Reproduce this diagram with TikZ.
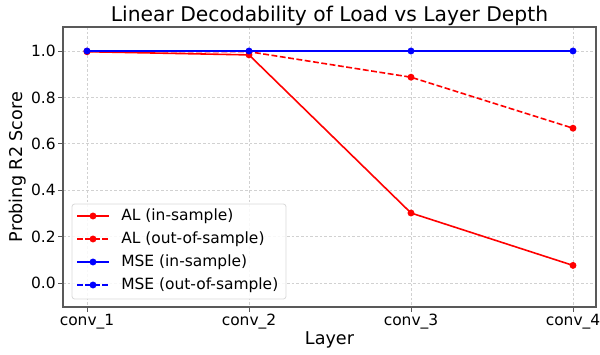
\documentclass[tikz,border=0pt]{standalone}
\usepackage{fontspec}
\setmainfont{DejaVu Sans}
\begin{document}
\begin{tikzpicture}[x=0.75pt,y=-0.75pt,
  gridline/.style={draw=black!18, line width=0.5pt, dash pattern=on 2pt off 1.5pt},
  frame/.style={draw=black!65, line width=0.8pt},
  ticklab/.style={font=\fontsize{11.6pt}{13pt}\selectfont, inner sep=0pt},
  alline/.style={draw=red, line width=1.2pt},
  mseline/.style={draw=blue, line width=1.2pt},
  dashline/.style={dash pattern=on 4.4pt off 1.9pt},
  dotr/.style={circle, fill=red, inner sep=0pt, minimum size=5.2pt},
  dotb/.style={circle, fill=blue, inner sep=0pt, minimum size=5.2pt},
  legtext/.style={font=\fontsize{11.6pt}{13pt}\selectfont, anchor=west, inner sep=0pt}
]
\useasboundingbox (0,0) rectangle (600,354);
% grid
\foreach \x in {87,249,411,573} \draw[gridline] (\x,27) -- (\x,307);
\foreach \y in {51,97.4,143.8,190.2,236.6,283} \draw[gridline] (63,\y) -- (596,\y);
% tick marks
\foreach \x in {87,249,411,573} \draw[frame, line width=0.6pt] (\x,307) -- (\x,312);
\foreach \y in {51,97.4,143.8,190.2,236.6,283} \draw[frame, line width=0.6pt] (63,\y) -- (58,\y);
% tick labels
\node[ticklab, anchor=north] (t1) at (87,314) {conv\_1};
\node[ticklab, anchor=north] (t2) at (249,314) {conv\_2};
\node[ticklab, anchor=north] (t3) at (411,314) {conv\_3};
\node[ticklab, anchor=north] (t4) at (573,314) {conv\_4};
\node[ticklab, anchor=east] (y10) at (56,51) {1.0};
\node[ticklab, anchor=east] (y08) at (56,97.4) {0.8};
\node[ticklab, anchor=east] (y06) at (56,143.8) {0.6};
\node[ticklab, anchor=east] (y04) at (56,190.2) {0.4};
\node[ticklab, anchor=east] (y02) at (56,236.6) {0.2};
\node[ticklab, anchor=east] (y00) at (56,283) {0.0};
% labels
\node[font=\fontsize{15.2pt}{17pt}\selectfont, inner sep=0pt] (title) at (329.5,16) {Linear Decodability of Load vs Layer Depth};
\node[font=\fontsize{13.2pt}{15pt}\selectfont, inner sep=0pt] (xlab) at (329.5,340) {Layer};
\node[font=\fontsize{13.2pt}{15pt}\selectfont, inner sep=0pt, rotate=90] (ylab) at (18,167) {Probing R2 Score};
% data points
\node[dotr] (a1) at (87,51.7) {};
\node[dotr] (a2) at (249,54.9) {};
\node[dotr] (a3) at (411,213) {};
\node[dotr] (a4) at (573,265.4) {};
\node[dotr] (o1) at (87,51.2) {};
\node[dotr] (o2) at (249,51.7) {};
\node[dotr] (o3) at (411,77.2) {};
\node[dotr] (o4) at (573,128.2) {};
\draw[alline] (a1.center) -- (a2.center) -- (a3.center) -- (a4.center);
\draw[alline, dashline] (o1.center) -- (o2.center) -- (o3.center) -- (o4.center);
\node[dotb] (m1) at (87,51) {};
\node[dotb] (m2) at (249,51) {};
\node[dotb] (m3) at (411,51) {};
\node[dotb] (m4) at (573,51) {};
\draw[mseline] (m1.center) -- (m2.center) -- (m3.center) -- (m4.center);
\draw[mseline, dashline] (m1.center) -- (m2.center) -- (m3.center) -- (m4.center);
% frame
\draw[frame] (63,27) rectangle (596,307);
% legend
\draw[draw=black!15, fill=white, fill opacity=0.85, rounded corners=2pt, line width=0.6pt] (72,204) rectangle (286,299);
\coordinate (l1a) at (77,216); \coordinate (l1b) at (109,216);
\coordinate (l2a) at (77,239); \coordinate (l2b) at (109,239);
\coordinate (l3a) at (77,262); \coordinate (l3b) at (109,262);
\coordinate (l4a) at (77,285); \coordinate (l4b) at (109,285);
\draw[alline] (l1a) -- (l1b); \node[dotr] (lm1) at (93,216) {};
\draw[alline, dashline] (l2a) -- (l2b); \node[dotr] (lm2) at (93,239) {};
\draw[mseline] (l3a) -- (l3b); \node[dotb] (lm3) at (93,262) {};
\draw[mseline, dashline] (l4a) -- (l4b); \node[dotb] (lm4) at (93,285) {};
\node[legtext] (lt1) at (121,216) {AL (in-sample)};
\node[legtext] (lt2) at (121,239) {AL (out-of-sample)};
\node[legtext] (lt3) at (121,262) {MSE (in-sample)};
\node[legtext] (lt4) at (121,285) {MSE (out-of-sample)};
\end{tikzpicture}
\end{document}
